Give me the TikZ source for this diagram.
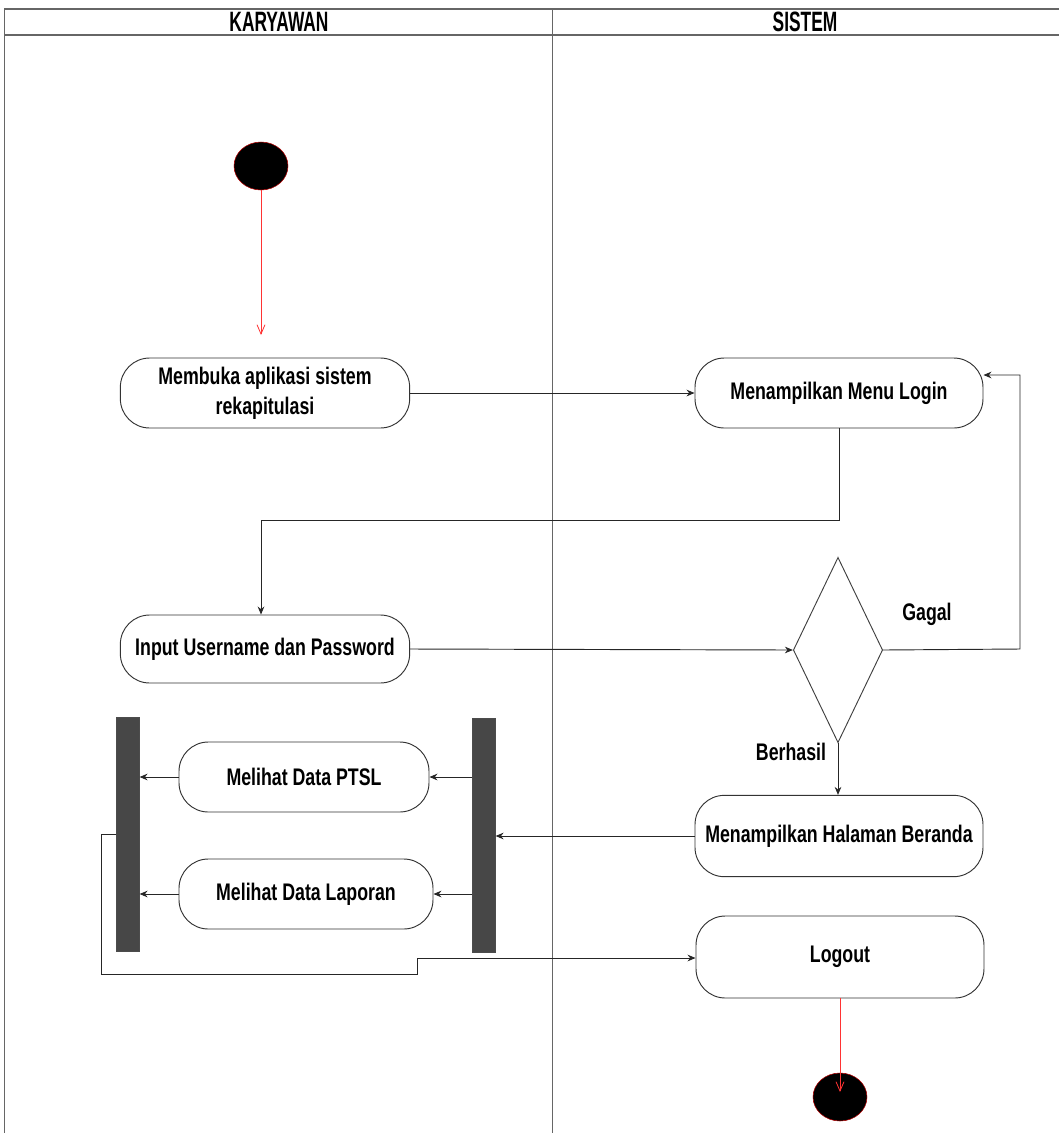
\documentclass[tikz,border=0pt]{standalone}
\usepackage{fontspec}
\setmainfont{Liberation Sans}[FakeStretch=0.74]
\newfontfamily\lanefont{Liberation Sans}[FakeStretch=0.62]
\usepackage{tikz}
\usetikzlibrary{arrows.meta,positioning,shapes.geometric,calc}

\begin{document}
\begin{tikzpicture}[
    x=0.75pt, y=-0.75pt,
    font=\fontsize{18}{22.5}\selectfont\bfseries,
    flow/.style={-{Stealth[length=6pt,width=5pt]}, draw=black!85, line width=0.7pt},
    endflow/.style={-{Straight Barb[length=7pt,width=6pt]}, draw=red!80, line width=0.6pt},
    act/.style={
        draw=black!80,
        line width=0.7pt,
        rounded corners=22pt,
        align=center,
        minimum width=217pt,
        minimum height=52.5pt,
        inner sep=2pt,
        fill=white
    },
    bar/.style={
        draw=black!70,
        fill=black!72,
        minimum width=17pt,
        minimum height=175.5pt,
        inner sep=0pt
    },
    dot/.style={
        ellipse,
        draw=red!70!black,
        fill=black,
        minimum width=40.5pt,
        minimum height=36pt,
        inner sep=0pt
    },
    decision/.style={diamond, draw=black!75, line width=0.7pt,
        minimum width=67pt, minimum height=139pt, inner sep=0pt},
    lane/.style={draw=black!60, line width=0.6pt},
    lanetitle/.style={font=\lanefont\fontsize{21}{24}\selectfont\bfseries}
]

% Stable crop.
\path[use as bounding box] (0,0) rectangle (1059,1133);

% --------------------------------------------------
% Swimlanes
% --------------------------------------------------
\draw[lane, line width=1pt] (4,9) -- (1059,9);
\draw[lane, line width=1pt] (4,35) -- (1059,35);
\draw[lane] (4,9) -- (4,1133);
\draw[lane] (552,9) -- (552,1133);

\node[lanetitle] (karyawan) at (279,22) {KARYAWAN};
\node[lanetitle] (sistem)   at (805,22) {SISTEM};

% --------------------------------------------------
% Karyawan lane
% --------------------------------------------------
\node[dot] (start) at (261,166) {};
\coordinate (startin) at (261,335);

\node[act] (buka)  at (265,393) {Membuka aplikasi sistem\\rekapitulasi};
\node[act, minimum height=51pt] (input) at (265,649) {Input Username dan Password};

\node[bar] (forkR) at (484,835) {};
\node[bar] (forkL) at (128,834) {};

\node[act, minimum width=187.5pt] (ptsl)    at (304,777) {Melihat Data PTSL};
\node[act, minimum width=190.5pt] (laporan) at (306,894) {Melihat Data Laporan};

% --------------------------------------------------
% Sistem lane
% --------------------------------------------------
\node[act, minimum width=216pt] (login) at (839,393) {Menampilkan Menu Login};
\node[decision] (cek) at (838,650) {};
\node[act, minimum width=216pt, minimum height=61pt] (beranda) at (839,836) {Menampilkan Halaman Beranda};
\node[act, minimum width=216pt, minimum height=61.5pt] (logout) at (840,957) {Logout};
\node[dot] (stop) at (840,1097) {};

\node (gagal)    at (927,614) {Gagal};
\node (berhasil) at (791,752) {Berhasil};

% Helper coordinates for the bent connectors.
\coordinate (loginout) at (839,520);
\coordinate (inputin)  at (261,520);
\coordinate (retry)    at (1020,649);
\coordinate (loginin)  at ([yshift=13.5pt]login.east);
\coordinate (quit1)    at (101,834);
\coordinate (quit2)    at (101,974);
\coordinate (quit3)    at (417,974);
\coordinate (quit4)    at (417,958);
\coordinate (stopin)   at (840,1092);

% --------------------------------------------------
% Flow
% --------------------------------------------------
\draw[endflow] (start.south) -- (startin);

\draw[flow] (buka.east) -- (login.west);
\draw[flow] (login.south) -- (loginout) -- (inputin) -- (inputin |- input.north);

\draw[flow] (input.east) -- (cek.west);
\draw[flow] (cek.east) -- (retry) |- (loginin);
\draw[flow] (cek.south) -- (beranda.north -| cek.south);

\draw[flow] (beranda.west) -- (forkR.east |- beranda.west);
\draw[flow] (forkR.west |- ptsl.east) -- (ptsl.east);
\draw[flow] (forkR.west |- laporan.east) -- (laporan.east);
\draw[flow] (ptsl.west) -- (forkL.east |- ptsl.west);
\draw[flow] (laporan.west) -- (forkL.east |- laporan.west);

\draw[flow] (forkL.west) -- (quit1) -- (quit2) -- (quit3) -- (quit4) -- (quit4 -| logout.west);

\draw[endflow] (logout.south) -- (stopin);

\end{tikzpicture}
\end{document}
